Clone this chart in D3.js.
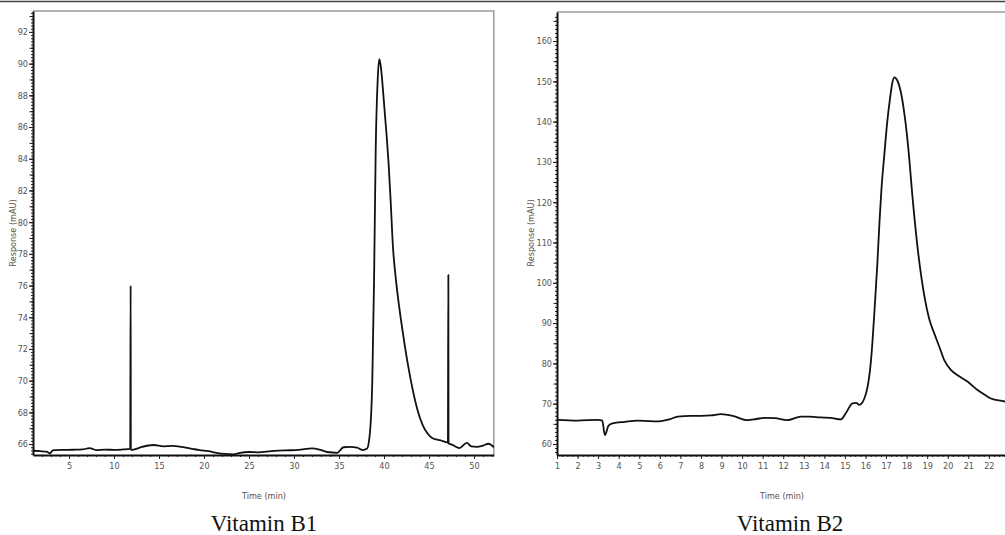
<!DOCTYPE html>
<html>
<head>
<meta charset="utf-8">
<script src="https://d3js.org/d3.v7.min.js"></script>
<style>
  body { margin: 0; background: #fff; overflow: hidden; }
  .tick text { font-family: "Liberation Sans Narrow", "DejaVu Sans Condensed", sans-serif; font-size: 9px; fill: #555; }
  .axisLabel { font-family: "Liberation Sans Narrow", "DejaVu Sans Condensed", sans-serif; font-size: 9px; fill: #5a5048; }
  .title { font-family: "Liberation Serif", "Times New Roman", serif; font-size: 23px; fill: #111; }
</style>
</head>
<body>
<div id="chart"></div>
<script>

// Vitamin B1 trace (time in min, response in mAU)

var b1Time = [1, 1.8, 2.5, 2.9, 3.2, 3.5, 4.5, 5.5, 6.5, 7.3, 8, 9, 10, 11, 11.8, 11.85, 11.87, 12.2, 13, 14.4, 15.5, 16.5, 17.5, 18.7, 19.5, 20.5, 21.4, 22.3, 23.3, 24, 25, 26, 27.5, 29, 30.5, 32, 33, 33.7, 34.8, 35.5, 36.2, 37, 37.6, 38.1,
              38.4, 38.7, 38.9, 39.08, 39.3, 39.48, 39.65, 39.85, 40.1, 40.3, 40.5, 40.75, 41.0, 41.3, 41.7, 42.1, 42.6, 43.2, 43.7, 44.3, 44.8, 45.3, 45.8, 46.2, 47.1, 47.15, 47.17, 47.6, 48.4, 49.2, 49.7, 50.3, 51, 51.6, 52.2];

var b1Value = [65.58, 65.55, 65.52, 65.42, 65.6, 65.62, 65.63, 65.64, 65.66, 65.75, 65.62, 65.65, 65.63, 65.66, 65.7, 76.0, 65.62, 65.65, 65.8, 65.94, 65.86, 65.88, 65.82, 65.7, 65.62, 65.55, 65.45, 65.38, 65.35, 65.45, 65.5, 65.48, 65.55, 65.6, 65.63, 65.73, 65.62, 65.5, 65.45, 65.8, 65.82, 65.78, 65.62, 65.7,
               66.5, 70, 76.5, 84.6, 89, 90.28, 89.8, 88.6, 86.8, 85.4, 83.8, 81.2, 78.4, 76.5, 74.6, 73.0, 71.2, 69.4, 68.2, 67.2, 66.7, 66.4, 66.3, 66.25, 66.1, 76.67, 66.05, 65.95, 65.75, 66.07, 65.85, 65.82, 65.9, 66.02, 65.8];

// Vitamin B2 trace

var b2Time = [1, 2, 3, 3.2, 3.33, 3.5, 3.7, 4.3, 4.9, 5.4, 5.8, 6.06, 6.5, 6.87, 7.5, 8.0, 8.5, 8.97, 9.6, 10.27, 10.7, 11.08, 11.6, 12.2, 12.86, 13.3, 13.8, 14.3, 14.8, 15.05, 15.37, 15.55, 15.7, 16.03, 16.27,
              16.47, 16.58, 16.68, 16.78, 16.92, 17.05, 17.2, 17.3, 17.4, 17.55, 17.7, 17.85, 17.97, 18.09, 18.3, 18.55, 18.9, 19.1, 19.34, 19.6, 19.83, 20.15, 20.5, 20.96, 21.45, 21.8, 22.1, 22.5, 22.83, 23.5, 24];

var b2Value = [66.0, 65.8, 66.0, 65.8, 62.2, 64.5, 65.1, 65.5, 65.8, 65.7, 65.6, 65.7, 66.2, 66.8, 67.0, 67.0, 67.1, 67.4, 66.9, 65.9, 66.2, 66.5, 66.4, 65.9, 66.8, 66.8, 66.6, 66.5, 66.1, 67.7, 70.1, 70.2, 69.7, 72.6, 80.8,
               95.7, 105, 115, 123.5, 132, 139.5, 146, 149.5, 151, 150.2, 147.8, 143.5, 138.8, 133, 120.5, 108, 95.7, 91, 87.5, 84.0, 80.8, 78.4, 77, 75.5, 73.4, 72.2, 71.3, 70.8, 70.5, 70.1, 69.9];

// tick values

var b1XTicks = [5, 10, 15, 20, 25, 30, 35, 40, 45, 50],
    b1YTicks = [66, 68, 70, 72, 74, 76, 78, 80, 82, 84, 86, 88, 90, 92],
    b2XTicks = d3.range(1, 23),
    b2YTicks = [60, 70, 80, 90, 100, 110, 120, 130, 140, 150, 160];

var width = 1005,
    height = 535;

var svg = d3.select("#chart").append("svg")
  .attr("width", width)
  .attr("height", height);

// top rule across the figure

svg.append("line")
  .attr("x1", 0).attr("x2", width)
  .attr("y1", 1.5).attr("y2", 1.5)
  .attr("stroke", "#444")
  .attr("stroke-width", 1.5);

// draw one chromatogram panel

function panel(opt) {

  var x = d3.scaleLinear().domain(opt.xDomain).range([opt.left, opt.right]),
      y = d3.scaleLinear().domain(opt.yDomain).range([opt.bottom, opt.top]);

  var g = svg.append("g");

  // frame (top and right in light grey)

  g.append("path")
    .attr("d", "M" + opt.left + "," + opt.top + "H" + opt.right + "V" + opt.bottom)
    .attr("fill", "none")
    .attr("stroke", "#9a9a9a")
    .attr("stroke-width", 1.5);

  // minor and medium ticks

  g.append("g")
    .attr("transform", "translate(0," + opt.bottom + ")")
    .call(d3.axisBottom(x).tickValues(opt.xMinor).tickSize(2).tickFormat(""))
    .call(function(a) { a.select(".domain").remove(); });

  g.append("g")
    .attr("transform", "translate(" + opt.left + ",0)")
    .call(d3.axisLeft(y).tickValues(opt.yMinor).tickSize(2).tickFormat(""))
    .call(function(a) { a.select(".domain").remove(); });

  g.append("g")
    .attr("transform", "translate(" + opt.left + ",0)")
    .call(d3.axisLeft(y).tickValues(opt.yMid).tickSize(3.5).tickFormat(""))
    .call(function(a) { a.select(".domain").remove(); });

  // major axes

  var xAxis = g.append("g")
    .attr("transform", "translate(0," + opt.bottom + ")")
    .call(d3.axisBottom(x).tickValues(opt.xTicks).tickSize(4).tickSizeOuter(0).tickPadding(4));

  var yAxis = g.append("g")
    .attr("transform", "translate(" + opt.left + ",0)")
    .call(d3.axisLeft(y).tickValues(opt.yTicks).tickSize(4).tickSizeOuter(0).tickPadding(1));

  xAxis.select(".domain").attr("stroke", "#111").attr("stroke-width", 2);
  yAxis.select(".domain").attr("stroke", "#111").attr("stroke-width", 2);
  g.selectAll(".tick line").attr("stroke", "#222");

  // trace

  var points = opt.time.map(function(t, i) { return [t, opt.value[i]]; });

  var line = d3.line()
    .x(function(d) { return x(d[0]); })
    .y(function(d) { return y(d[1]); })
    .curve(d3.curveMonotoneX);

  g.append("path")
    .datum(points)
    .attr("d", line)
    .attr("fill", "none")
    .attr("stroke", "#111")
    .attr("stroke-width", 1.8)
    .attr("stroke-linejoin", "round");

  // axis titles

  g.append("text")
    .attr("class", "axisLabel")
    .attr("text-anchor", "middle")
    .attr("x", opt.xLabelX)
    .attr("y", 499)
    .text("Time (min)");

  g.append("text")
    .attr("class", "axisLabel")
    .attr("text-anchor", "middle")
    .attr("transform", "translate(" + opt.yLabelX + ",233) rotate(-90)")
    .text("Response (mAU)");

  g.append("text")
    .attr("class", "title")
    .attr("text-anchor", "middle")
    .attr("x", opt.titleX)
    .attr("y", 531)
    .text(opt.title);
}

panel({
  time: b1Time, value: b1Value,
  xDomain: [1, 52.2], yDomain: [65.31, 93.32],
  left: 33, right: 493.8, top: 11, bottom: 455,
  xTicks: b1XTicks, yTicks: b1YTicks,
  xMinor: d3.range(2, 53, 1),
  yMinor: d3.range(65.4, 93.3, 0.2),
  yMid: d3.range(66, 94, 1),
  xLabelX: 264, yLabelX: 16, titleX: 264,
  title: "Vitamin B1"
});

panel({
  time: b2Time, value: b2Value,
  xDomain: [1, 24], yDomain: [57.27, 167.2],
  left: 557, right: 1030, top: 12, bottom: 455,
  xTicks: b2XTicks, yTicks: b2YTicks,
  xMinor: d3.range(1, 24, 0.25),
  yMinor: d3.range(58, 167, 1),
  yMid: d3.range(60, 167, 5),
  xLabelX: 782, yLabelX: 534, titleX: 790,
  title: "Vitamin B2"
});

</script>
</body>
</html>
